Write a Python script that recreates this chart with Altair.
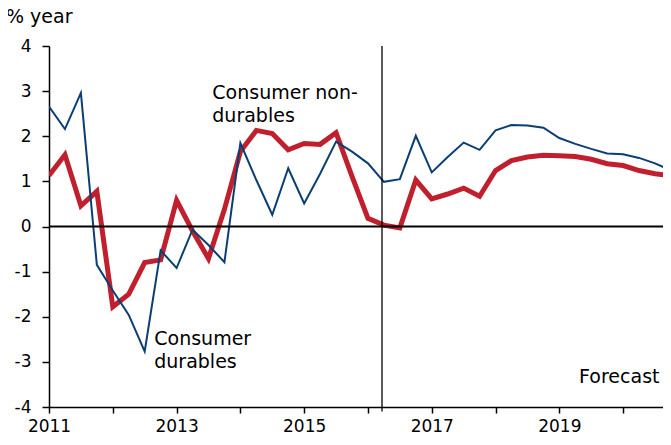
import altair as alt
import pandas as pd

# ---- data (quarterly, % year) ----
START_YEAR = 2011
durables = [2.66, 2.16, 2.96, -0.85, -1.42, -1.96, -2.77, -0.53, -0.92, -0.07,
            -0.41, -0.79, 1.85, 1.03, 0.26, 1.29, 0.51, 1.17, 1.88, 1.66,
            1.40, 0.99, 1.05, 2.01, 1.20, 1.54, 1.86, 1.70, 2.13, 2.25,
            2.24, 2.19, 1.96, 1.83, 1.72, 1.62, 1.60, 1.52, 1.40, 1.24]
nondurables = [1.13, 1.59, 0.46, 0.78, -1.78, -1.50, -0.80, -0.74, 0.58, -0.10,
               -0.71, 0.38, 1.66, 2.13, 2.06, 1.70, 1.84, 1.82, 2.08, 1.11,
               0.18, 0.03, -0.03, 1.03, 0.61, 0.72, 0.85, 0.67, 1.24, 1.46,
               1.54, 1.58, 1.57, 1.55, 1.49, 1.39, 1.35, 1.24, 1.17, 1.12]
year_ticks = [2011, 2012, 2013, 2014, 2015, 2016, 2017, 2018, 2019, 2020]
y_ticks = [-4, -3, -2, -1, 0, 1, 2, 3, 4]
X_DOMAIN = [2011, 2020.625]
Y_DOMAIN = [-4, 4]
FORECAST_START = 2016.22
ZERO = 0

label_texts = ["Consumer non-\ndurables", "Consumer\ndurables", "Forecast"]
label_x = [2013.56, 2012.65, 2020.57]
label_y = [2.83, -2.62, -3.47]

dates = [START_YEAR + k / 4 for k in range(len(durables))]
df = pd.DataFrame({"date": dates, "durables": durables, "nondurables": nondurables})

FONT = "DejaVu Sans"
BLUE = "#0B3F74"
RED = "#C0202D"

x_scale = alt.Scale(domain=X_DOMAIN, nice=False, zero=False)
y_scale = alt.Scale(domain=Y_DOMAIN, nice=False)

x_axis = alt.Axis(values=year_ticks, title=None, grid=False,
                  labelExpr="datum.value % 2 == 1 ? '' + datum.value : ''",
                  tickSize=6, labelPadding=5, labelFlush=False, labelOverlap=False)
y_axis = alt.Axis(values=y_ticks, title=None, grid=False,
                  labelExpr="'' + datum.value", tickSize=7, labelPadding=11)

base = alt.Chart(df)

red = base.mark_line(color=RED, strokeWidth=5, strokeJoin="miter", clip=True).encode(
    x=alt.X("date:Q", scale=x_scale, axis=x_axis),
    y=alt.Y("nondurables:Q", scale=y_scale, axis=y_axis),
)
blue = base.mark_line(color=BLUE, strokeWidth=2, strokeJoin="miter", clip=True).encode(
    x=alt.X("date:Q", scale=x_scale),
    y=alt.Y("durables:Q", scale=y_scale),
)

zero_df = pd.DataFrame({"y": [ZERO]})
zero_line = alt.Chart(zero_df).mark_rule(color="black", strokeWidth=2).encode(
    y=alt.Y("y:Q", scale=y_scale)
)

vline_df = pd.DataFrame({"x": [FORECAST_START], "y1": [Y_DOMAIN[1]], "y2": [Y_DOMAIN[0] - 0.1]})
vline = alt.Chart(vline_df).mark_rule(color="black", strokeWidth=1.3).encode(
    x=alt.X("x:Q", scale=x_scale),
    y=alt.Y("y1:Q", scale=y_scale),
    y2="y2:Q",
)

lab_df = pd.DataFrame({"text": label_texts, "x": label_x, "y": label_y})
labels_left = alt.Chart(lab_df.iloc[:2]).mark_text(
    font=FONT, fontSize=19, align="left", baseline="alphabetic",
    lineBreak="\n", lineHeight=23, color="black"
).encode(x=alt.X("x:Q", scale=x_scale), y=alt.Y("y:Q", scale=y_scale), text="text:N")
labels_right = alt.Chart(lab_df.iloc[2:]).mark_text(
    font=FONT, fontSize=19, align="right", baseline="alphabetic", color="black"
).encode(x=alt.X("x:Q", scale=x_scale), y=alt.Y("y:Q", scale=y_scale), text="text:N")

chart = alt.layer(red, blue, zero_line, vline, labels_left, labels_right).properties(
    width=614, height=361,
    title=alt.TitleParams(text="% year", anchor="start", frame="group", font=FONT,
                          fontSize=19, fontWeight="normal", color="black",
                          dx=-43, offset=10),
    autosize=alt.AutoSizeParams(type="none"),
    padding={"left": 41, "top": 38, "right": 0, "bottom": 30},
).configure_view(stroke=None).configure_axis(
    domainColor="black", tickColor="black", domainWidth=1.5, tickWidth=1.5,
    labelFont=FONT, labelFontSize=17, labelColor="black"
)

chart.save("out.html", embed_options={"renderer": "svg", "actions": False})
